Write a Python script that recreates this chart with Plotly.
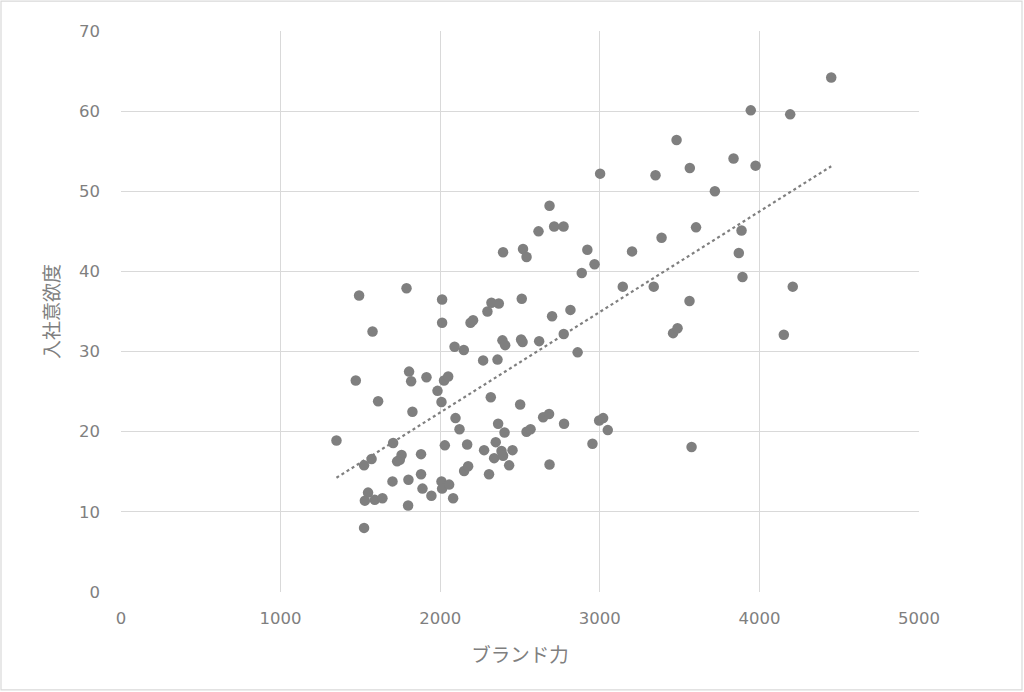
import numpy as np
import plotly.graph_objects as go

brand = [1350, 1492, 1471, 1576, 1611, 1570, 1523, 1548, 1528, 1590, 1638, 1523,
         1705, 1758, 1747, 1730, 1701, 1789, 1805, 1818, 1826, 1801, 1799, 1880,
         1880, 1889, 1914, 1945, 1983, 2012, 2012, 2008, 2024, 2050, 2029, 2008,
         2012, 2056, 2081, 2090, 2148, 2096, 2121, 2169, 2150, 2175, 2190, 2206,
         2269, 2296, 2321, 2367, 2317, 2275, 2306, 2338, 2348, 2363, 2359, 2394,
         2390, 2407, 2403, 2384, 2394, 2453, 2432, 2511, 2501, 2507, 2516, 2519,
         2541, 2541, 2566, 2616, 2620, 2645, 2682, 2685, 2701, 2714, 2773, 2774,
         2776, 2685, 2816, 2861, 2887, 2922, 2967, 2954, 2996, 3021, 3050, 3002,
         3144, 3202, 3338, 3349, 3387, 3459, 3487, 3481, 3564, 3562, 3575, 3603,
         3721, 3838, 3871, 3888, 3894, 3946, 3976, 4153, 4193, 4209, 4450]
motivation = [18.9, 37.0, 26.4, 32.5, 23.8, 16.6, 15.8, 12.4, 11.4, 11.5, 11.7, 8.0,
              18.6, 17.1, 16.5, 16.3, 13.8, 37.9, 27.5, 26.3, 22.5, 14.0, 10.8, 17.2,
              14.7, 12.9, 26.8, 12.0, 25.1, 36.5, 33.6, 23.7, 26.4, 26.9, 18.3, 13.8,
              12.9, 13.4, 11.7, 30.6, 30.2, 21.7, 20.3, 18.4, 15.1, 15.7, 33.6, 33.9,
              28.9, 35.0, 36.1, 36.0, 24.3, 17.7, 14.7, 16.7, 18.7, 21.0, 29.0, 42.4,
              31.4, 30.8, 19.9, 17.6, 17.0, 17.7, 15.8, 36.6, 23.4, 31.5, 31.2, 42.8,
              41.8, 20.0, 20.3, 45.0, 31.3, 21.8, 22.2, 48.2, 34.4, 45.6, 45.6, 32.2,
              21.0, 15.9, 35.2, 29.9, 39.8, 42.7, 40.9, 18.5, 21.4, 21.7, 20.2, 52.2,
              38.1, 42.5, 38.1, 52.0, 44.2, 32.3, 32.9, 56.4, 52.9, 36.3, 18.1, 45.5,
              50.0, 54.1, 42.3, 45.1, 39.3, 60.1, 53.2, 32.1, 59.6, 38.1, 64.2]

x_title = "ブランド力"
y_title = "入社意欲度"
x_ticks = [0, 1000, 2000, 3000, 4000, 5000]
y_ticks = [0, 10, 20, 30, 40, 50, 60, 70]

GREY = "#7f7f7f"
TEXT = "#7f7f7f"
GRID = "#d9d9d9"
FONT = "Noto Sans CJK JP"
NUMFONT = "DejaVu Sans"

slope, intercept = np.polyfit(brand, motivation, 1)
tx = np.array([min(brand), max(brand)])
ty = slope * tx + intercept

fig = go.Figure()
fig.add_trace(go.Scatter(x=tx, y=ty, mode="lines",
                         line=dict(color=GREY, width=2.2, dash="dot"),
                         hoverinfo="skip", showlegend=False))
fig.add_trace(go.Scatter(x=brand, y=motivation, mode="markers",
                         marker=dict(color=GREY, size=10.5, line=dict(width=0)),
                         showlegend=False))

fig.update_layout(
    width=1024, height=692,
    margin=dict(l=121, r=105, t=31, b=100),
    paper_bgcolor="white", plot_bgcolor="white",
    font=dict(family=FONT, color=TEXT, size=16),
    xaxis=dict(range=[0, 5000], tickvals=x_ticks, showgrid=True, gridcolor=GRID,
               gridwidth=1, zeroline=False, showline=False, ticks="",
               tickfont=dict(family=NUMFONT, size=16.5, color=TEXT), ticklabelstandoff=14,
               title=dict(text=x_title, font=dict(family=FONT, size=19.5, color=TEXT), standoff=21)),
    yaxis=dict(range=[0, 70], tickvals=y_ticks, showgrid=True, gridcolor=GRID,
               gridwidth=1, zeroline=False, showline=False, ticks="",
               tickfont=dict(family=NUMFONT, size=16.5, color=TEXT), ticklabelstandoff=20,
               title=dict(text=y_title, font=dict(family=FONT, size=19, color=TEXT), standoff=14)),
    shapes=[dict(type="rect", xref="paper", yref="paper",
                 x0=-120 / 798, x1=901 / 798, y0=-98 / 561.5, y1=591.5 / 561.5,
                 line=dict(color=GRID, width=1.2), fillcolor="rgba(0,0,0,0)",
                 layer="below")],
)

fig.write_html("out.html", config={"displayModeBar": False},
               post_script="document.body.style.margin='0';")
